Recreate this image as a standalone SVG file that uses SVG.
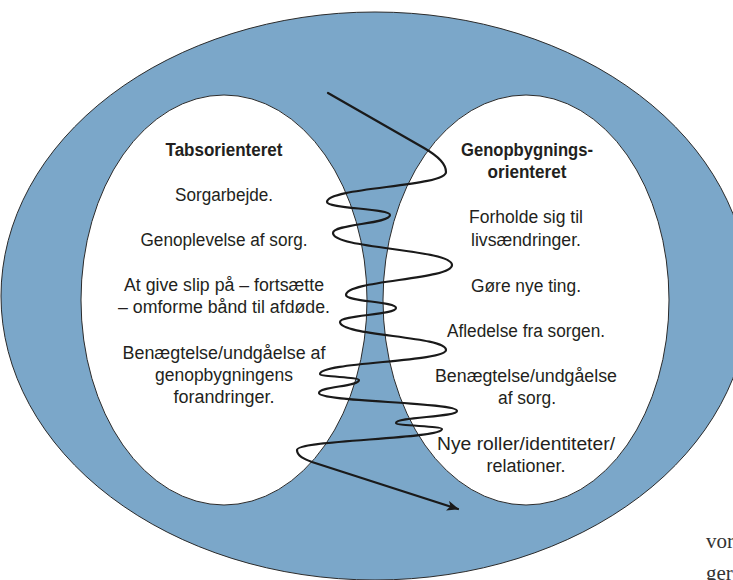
<svg xmlns="http://www.w3.org/2000/svg" width="733" height="580" viewBox="0 0 733 580">
<defs>
<style>
.outer{fill:#7ba7c9;stroke:#2b2b2b;stroke-width:1}
.inner{fill:#ffffff;stroke:#2b2b2b;stroke-width:1}
.t{font-family:"Liberation Sans",Arial,sans-serif;font-size:18px;fill:#231f20;text-anchor:middle}
.b{font-weight:bold}
.page{font-family:"Liberation Serif","Times New Roman",serif;font-size:21px;fill:#333333}
.wave{fill:none;stroke:#1a1a1a;stroke-width:2.2;stroke-linecap:round;stroke-linejoin:round}
</style>
<marker id="arrow" markerUnits="userSpaceOnUse" markerWidth="14" markerHeight="12" refX="11" refY="5" orient="auto">
<path d="M0,0 L12,5 L0,10 L3,5 z" fill="#1a1a1a"/>
</marker>
</defs>
<g id="outer-field">
<ellipse class="outer" cx="375" cy="296" rx="374" ry="284"/>
</g>
<g id="loss-oriented">
<ellipse class="inner" cx="224" cy="300" rx="143" ry="205"/>
<text class="t b" x="224" y="156" textLength="117" lengthAdjust="spacingAndGlyphs">Tabsorienteret</text>
<text class="t" x="224" y="201" textLength="98" lengthAdjust="spacingAndGlyphs">Sorgarbejde.</text>
<text class="t" x="224" y="246" textLength="167" lengthAdjust="spacingAndGlyphs">Genoplevelse af sorg.</text>
<text class="t" x="224" y="291" textLength="200" lengthAdjust="spacingAndGlyphs">At give slip på – fortsætte</text>
<text class="t" x="224" y="313" textLength="212" lengthAdjust="spacingAndGlyphs">– omforme bånd til afdøde.</text>
<text class="t" x="224" y="359" textLength="203" lengthAdjust="spacingAndGlyphs">Benægtelse/undgåelse af</text>
<text class="t" x="224" y="381" textLength="138" lengthAdjust="spacingAndGlyphs">genopbygningens</text>
<text class="t" x="224" y="403" textLength="101" lengthAdjust="spacingAndGlyphs">forandringer.</text>
</g>
<g id="restoration-oriented">
<ellipse class="inner" cx="526" cy="300" rx="143" ry="205"/>
<text class="t b" x="527" y="156" textLength="132" lengthAdjust="spacingAndGlyphs">Genopbygnings-</text>
<text class="t b" x="527" y="178" textLength="79" lengthAdjust="spacingAndGlyphs">orienteret</text>
<text class="t" x="526" y="223" textLength="114" lengthAdjust="spacingAndGlyphs">Forholde sig til</text>
<text class="t" x="526" y="246" textLength="110" lengthAdjust="spacingAndGlyphs">livsændringer.</text>
<text class="t" x="526" y="292" textLength="110" lengthAdjust="spacingAndGlyphs">Gøre nye ting.</text>
<text class="t" x="526" y="337" textLength="158" lengthAdjust="spacingAndGlyphs">Afledelse fra sorgen.</text>
<text class="t" x="526" y="382" textLength="182" lengthAdjust="spacingAndGlyphs">Benægtelse/undgåelse</text>
<text class="t" x="527" y="404" textLength="58" lengthAdjust="spacingAndGlyphs">af sorg.</text>
<text class="t" x="526" y="450" textLength="178" lengthAdjust="spacingAndGlyphs">Nye roller/identiteter/</text>
<text class="t" x="526" y="472" textLength="79" lengthAdjust="spacingAndGlyphs">relationer.</text>
</g>
<g id="connectors">
<path class="wave" marker-end="url(#arrow)" d="M328,93 L424,148 C438,156 446,164 446,172 C446,187 327,187 327,202 C327,208.5 390,208.5 390,215 C390,224 333,224 333,233 C333,249 452,249 452,265 C452,280 346,280 346,295 C346,301.5 396,301.5 396,308 C396,315 340,315 340,322 C340,336 446,336 446,350 C446,362 320,362 320,374 C320,377 359,377 359,380 C359,386.5 319,386.5 319,393 C319,402 457,402 457,411 C457,417 396,417 396,423 C396,426 442,426 442,429 C442,439.5 297,439.5 297,450 C297,456 304,459 312,462 L458,509"/>
</g>
<g id="page-text">
<text class="page" x="706" y="548">vor</text>
<text class="page" x="706" y="580">ger</text>
</g>
</svg>
